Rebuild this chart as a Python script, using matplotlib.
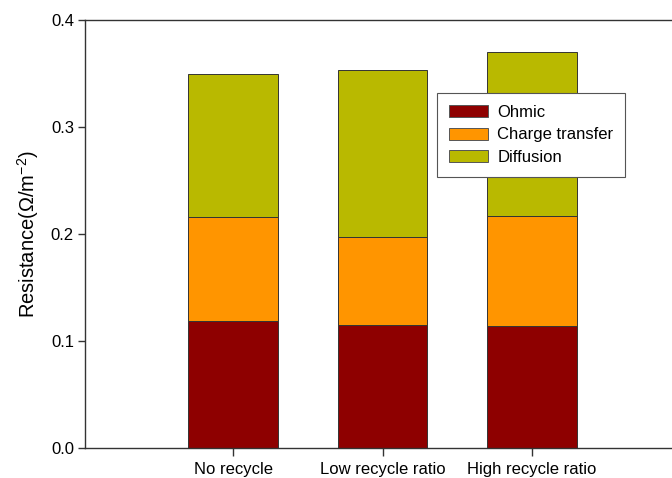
import matplotlib

matplotlib.use("Agg")
import matplotlib.pyplot as plt
import numpy as np

plt.rcParams["font.family"] = ["Liberation Sans", "DejaVu Sans"]

# resistance components per operating mode
modes = ["No recycle", "Low recycle ratio", "High recycle ratio"]
ohmic = [0.119, 0.115, 0.114]
charge_transfer = [0.097, 0.082, 0.103]
diffusion = [0.134, 0.156, 0.153]

colors = {"Ohmic": "#8e0000", "Charge transfer": "#ff9500", "Diffusion": "#b9b900"}

fig = plt.figure(figsize=(6.72, 4.78), dpi=100)
ax = fig.add_axes([85 / 672, 30 / 478, 0.888, 428 / 478])

x = np.arange(len(modes))
w = 0.6
bottom = np.zeros(len(modes))
for name, vals in [("Ohmic", ohmic), ("Charge transfer", charge_transfer), ("Diffusion", diffusion)]:
    ax.bar(x, vals, w, bottom=bottom, color=colors[name], edgecolor="#333333",
           linewidth=0.7, label=name)
    bottom += np.array(vals)

ax.set_xlim(-0.99, 3.0)
ax.set_ylim(0, 0.4)
ax.set_yticks([0.0, 0.1, 0.2, 0.3, 0.4])
ax.set_yticklabels(["0.0", "0.1", "0.2", "0.3", "0.4"])
ax.set_xticks(x)
ax.set_xticklabels(modes)
ax.tick_params(axis="both", labelsize=12, color="#333333", width=1.0)
ax.tick_params(axis="y", length=5, pad=3)
ax.tick_params(axis="x", length=6, pad=4)
for s in ax.spines.values():
    s.set_color("#333333")
    s.set_linewidth(1.0)
ax.set_ylabel("Resistance(Ω/m$^{\\mathregular{-2}}$)", fontsize=14.5, labelpad=7)

leg = ax.legend(loc="upper left", bbox_to_anchor=(352 / 597, 1 - 73 / 428),
                fontsize=12, frameon=True, fancybox=False, framealpha=1,
                borderpad=0.72, handlelength=2.35, handleheight=0.7,
                labelspacing=0.45, handletextpad=0.55, borderaxespad=0)
leg.get_frame().set_edgecolor("#555555")
leg.get_frame().set_linewidth(0.8)
for p in leg.get_patches():
    p.set_edgecolor("#555555")

fig.savefig("out.png", dpi=100)
